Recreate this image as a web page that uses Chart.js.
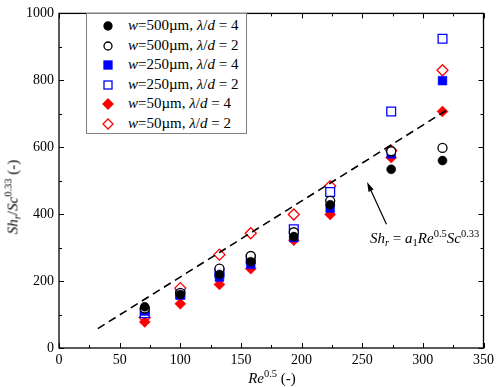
<!DOCTYPE html>
<html>
<head>
<meta charset="utf-8">
<script src="https://cdn.jsdelivr.net/npm/chart.js@4.4.1/dist/chart.umd.min.js"></script>
<style>
  body { margin: 0; background: #fff; }
  #wrap { position: relative; width: 498px; height: 387px; font-family: "Liberation Serif", "Times New Roman", serif; color: #000; }
  #wrap canvas { position: absolute; left: 0; top: 0; }
  .lbl { position: absolute; white-space: nowrap; font-size: 15px; line-height: 1; }
  .lbl sup, .lbl sub { font-size: 70%; line-height: 0; }
  .lbl sup { vertical-align: 0.55em; }
  .lbl sub { vertical-align: -0.25em; }
  #legend { position: absolute; left: 86px; top: 13px; width: 159px; height: 119px; border: 1px solid #808080; background: #fff; }
  .row { position: absolute; left: 0; height: 19px; font-size: 15px; line-height: 19px; white-space: nowrap; }
  .row svg { position: absolute; left: 15px; top: 4px; }
  .row span { position: absolute; left: 41px; }
</style>
</head>
<body>
<div id="wrap">
  <canvas id="chart" width="498" height="387"></canvas>
  <div id="legend"></div>
  <div class="lbl" id="ytitle" style="left:13px; top:197px; transform: translate(-50%,-50%) rotate(-90deg);"><i>Sh<sub>r</sub></i>/<i>Sc</i><sup>0.33</sup> (-)</div>
  <div class="lbl" id="xtitle" style="left:272px; top:378px; transform: translate(-50%,-50%);"><i>Re</i><sup>0.5</sup> (-)</div>
  <div class="lbl" id="note" style="left:370px; top:231px;"><i>Sh<sub>r</sub></i> = <i>a</i><sub>1</sub><i>Re</i><sup>0.5</sup><i>Sc</i><sup>0.33</sup></div>
</div>
<script>
// Re^0.5 values of the measurements
const reSqrt = [70.7, 100, 132.3, 158.1, 193.6, 223.6, 273.9, 316.2];

// Sh_r / Sc^0.33 for each configuration
const w500d4 = [123, 160, 220, 258, 333, 428, 534, 560];
const w500d2 = [118, 165, 237, 275, 346, 440, 588, 598];
const w250d4 = [110, 158, 212, 250, 330, 418, 580, 799];
const w250d2 = [104, 161, 225, 265, 355, 466, 707, 924];
const w50d4 = [78, 132, 190, 237, 322, 399, 569, 707];
const w50d2 = [91, 179, 279, 343, 399, 484, 590, 830];

// correlation line end points
const fitX = [32, 322];
const fitY = [58, 716];

// arrow pointing at the correlation line (tail, head)
const arrowX = [270, 254];
const arrowY = [370, 496];

const xTicks = [0, 50, 100, 150, 200, 250, 300, 350];
const yTicks = [0, 200, 400, 600, 800, 1000];

const seriesNames = [
  "w=500µm, λ/d = 4",
  "w=500µm, λ/d = 2",
  "w=250µm, λ/d = 4",
  "w=250µm, λ/d = 2",
  "w=50µm, λ/d = 4",
  "w=50µm, λ/d = 2"
];

function pts(ys) {
  return reSqrt.map((x, i) => ({ x: x, y: ys[i] }));
}

const markerStyles = [
  { pointStyle: "circle", color: "#000000", fill: true, r: 4.5 },
  { pointStyle: "circle", color: "#000000", fill: false, r: 4.5 },
  { pointStyle: "rect", color: "#0000ff", fill: true, r: 6.2 },
  { pointStyle: "rect", color: "#0000ff", fill: false, r: 6.2 },
  { pointStyle: "rectRot", color: "#ff0000", fill: true, r: 5.5 },
  { pointStyle: "rectRot", color: "#ff0000", fill: false, r: 5.5 }
];
const seriesData = [w500d4, w500d2, w250d4, w250d2, w50d4, w50d2];

const datasets = seriesData.map((ys, i) => {
  const m = markerStyles[i];
  return {
    label: seriesNames[i],
    data: pts(ys),
    pointStyle: m.pointStyle,
    pointRadius: m.r,
    pointBorderColor: m.color,
    pointBackgroundColor: m.fill ? m.color : "#ffffff",
    pointBorderWidth: m.fill ? 0.5 : 1.3,
    showLine: false
  };
});

// dashed fit line (drawn under the markers)
datasets.unshift({
  label: "fit",
  data: fitX.map((x, i) => ({ x: x, y: fitY[i] })),
  showLine: true,
  borderColor: "#000",
  borderWidth: 1.6,
  borderDash: [8, 5],
  pointRadius: 0,
  fill: false
});

// frame, inward ticks and the arrow
const frameTicks = {
  id: "frameTicks",
  afterDraw(chart) {
    const ctx = chart.ctx;
    const a = chart.chartArea;
    const xs = chart.scales.x;
    const ys = chart.scales.y;
    ctx.save();
    ctx.strokeStyle = "#000";
    ctx.lineWidth = 1.3;
    ctx.strokeRect(a.left, a.top, a.right - a.left, a.bottom - a.top);

    ctx.lineWidth = 1;
    ctx.beginPath();
    for (let v = 0; v <= 350; v += 25) {
      const px = Math.round(xs.getPixelForValue(v)) + 0.5;
      const len = v % 50 === 0 ? 5 : 3;
      ctx.moveTo(px, a.bottom); ctx.lineTo(px, a.bottom - len);
      ctx.moveTo(px, a.top); ctx.lineTo(px, a.top + len);
    }
    for (let v = 0; v <= 1000; v += 100) {
      const py = Math.round(ys.getPixelForValue(v)) + 0.5;
      const len = v % 200 === 0 ? 5 : 3;
      ctx.moveTo(a.left, py); ctx.lineTo(a.left + len, py);
      ctx.moveTo(a.right, py); ctx.lineTo(a.right - len, py);
    }
    ctx.stroke();

    // arrow
    const x0 = xs.getPixelForValue(arrowX[0]), y0 = ys.getPixelForValue(arrowY[0]);
    const x1 = xs.getPixelForValue(arrowX[1]), y1 = ys.getPixelForValue(arrowY[1]);
    const ang = Math.atan2(y1 - y0, x1 - x0);
    ctx.lineWidth = 1.2;
    ctx.beginPath();
    ctx.moveTo(x0, y0);
    ctx.lineTo(x1 - 6 * Math.cos(ang), y1 - 6 * Math.sin(ang));
    ctx.stroke();
    ctx.fillStyle = "#000";
    ctx.beginPath();
    ctx.moveTo(x1, y1);
    ctx.lineTo(x1 - 10 * Math.cos(ang - 0.28), y1 - 10 * Math.sin(ang - 0.28));
    ctx.lineTo(x1 - 10 * Math.cos(ang + 0.28), y1 - 10 * Math.sin(ang + 0.28));
    ctx.closePath();
    ctx.fill();
    ctx.restore();
  }
};

const tickFont = { family: "'Liberation Serif', 'Times New Roman', serif", size: 14 };

new Chart(document.getElementById("chart"), {
  type: "scatter",
  data: { datasets: datasets },
  options: {
    responsive: false,
    animation: false,
    layout: { padding: { top: 7, right: 13, left: 0, bottom: 0 } },
    plugins: { legend: { display: false }, tooltip: { enabled: false } },
    scales: {
      x: {
        type: "linear",
        min: 0,
        max: 350,
        afterFit: (s) => { s.height = 39; },
        afterBuildTicks: (s) => { s.ticks = xTicks.map((v) => ({ value: v })); },
        grid: { display: false, drawTicks: false },
        border: { display: false },
        ticks: { font: tickFont, color: "#000", padding: 4, maxRotation: 0, callback: (v) => String(v) }
      },
      y: {
        type: "linear",
        min: 0,
        max: 1000,
        afterFit: (s) => { s.width = 59; },
        afterBuildTicks: (s) => { s.ticks = yTicks.map((v) => ({ value: v })); },
        grid: { display: false, drawTicks: false },
        border: { display: false },
        ticks: { font: tickFont, color: "#000", padding: 5, callback: (v) => String(v) }
      }
    }
  },
  plugins: [frameTicks]
});

// HTML legend with italic symbols
const legend = document.getElementById("legend");
const legendHtml = [
  "<i>w</i>=500µm, <i>λ</i>/<i>d</i> = 4",
  "<i>w</i>=500µm, <i>λ</i>/<i>d</i> = 2",
  "<i>w</i>=250µm, <i>λ</i>/<i>d</i> = 4",
  "<i>w</i>=250µm, <i>λ</i>/<i>d</i> = 2",
  "<i>w</i>=50µm, <i>λ</i>/<i>d</i> = 4",
  "<i>w</i>=50µm, <i>λ</i>/<i>d</i> = 2"
];
markerStyles.forEach((m, i) => {
  const fill = m.fill ? m.color : "#fff";
  let shape;
  if (m.pointStyle === "circle") shape = `<circle cx="6" cy="6" r="4" fill="${fill}" stroke="${m.color}" stroke-width="1.3"/>`;
  else if (m.pointStyle === "rect") shape = `<rect x="2" y="2" width="8" height="8" fill="${fill}" stroke="${m.color}" stroke-width="1.3"/>`;
  else shape = `<polygon points="6,1 11,6 6,11 1,6" fill="${fill}" stroke="${m.color}" stroke-width="1.3"/>`;
  const row = document.createElement("div");
  row.className = "row";
  row.style.top = (2 + i * 19.5) + "px";
  row.innerHTML = `<svg width="12" height="12">${shape}</svg><span>${legendHtml[i]}</span>`;
  legend.appendChild(row);
});
</script>
</body>
</html>
